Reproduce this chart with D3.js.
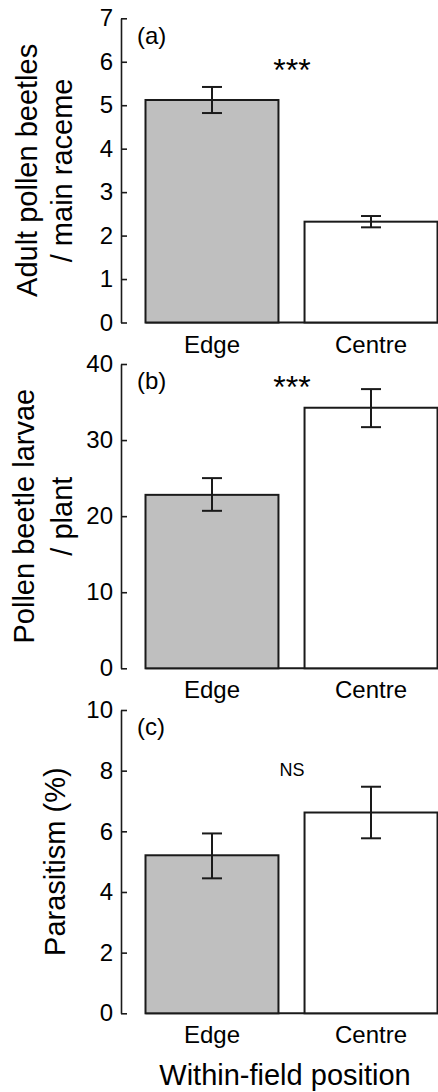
<!DOCTYPE html>
<html>
<head>
<meta charset="utf-8">
<script src="https://cdn.jsdelivr.net/npm/d3@7"></script>
<style>
  html, body { margin: 0; padding: 0; background: #fff; }
  svg { display: block; font-family: 'Liberation Sans', Arial, sans-serif; }
</style>
</head>
<body>
<svg id="chart" width="438" height="1092"></svg>
<script>
// data
const categories = ['Edge', 'Centre'];
const barColours = ['#bfbfbf', '#ffffff'];

const adultMean = [5.12, 2.32];
const adultLow = [4.82, 2.19];
const adultHigh = [5.42, 2.45];
const adultTicks = [0, 1, 2, 3, 4, 5, 6, 7];

const larvaeMean = [22.8, 34.25];
const larvaeLow = [20.7, 31.7];
const larvaeHigh = [25.0, 36.7];
const larvaeTicks = [0, 10, 20, 30, 40];

const parasitismMean = [5.21, 6.62];
const parasitismLow = [4.45, 5.77];
const parasitismHigh = [5.93, 7.47];
const parasitismTicks = [0, 2, 4, 6, 8, 10];

const panels = [
    { tag: '(a)', sig: '***', mean: adultMean, low: adultLow, high: adultHigh, ticks: adultTicks,
      max: 7, top: 18.3, bottom: 322.5, title: ['Adult pollen beetles', '/ main raceme'], titleX: [36.7, 71.7],
      sigY: 81, sigSize: 32, tagY: 43.5 },
    { tag: '(b)', sig: '***', mean: larvaeMean, low: larvaeLow, high: larvaeHigh, ticks: larvaeTicks,
      max: 40, top: 364, bottom: 668.3, title: ['Pollen beetle larvae', '/ plant'], titleX: [33.5, 71.7],
      sigY: 398, sigSize: 32, tagY: 389 },
    { tag: '(c)', sig: 'NS', mean: parasitismMean, low: parasitismLow, high: parasitismHigh, ticks: parasitismTicks,
      max: 10, top: 710, bottom: 1013.3, title: ['Parasitism (%)'], titleX: [65],
      sigY: 775.5, sigSize: 18, tagY: 735 }
];

const svg = d3.select('#chart');
const axisX = 121;
const ink = '#1a1a1a';

const x = d3.scaleBand()
    .domain(categories)
    .range([145.5, 437.5])
    .paddingInner(0.164)
    .paddingOuter(0);

panels.forEach(p => {
    const y = d3.scaleLinear()
        .domain([0, p.max])
        .range([p.bottom, p.top]);

    const g = svg.append('g');

    // y axis, ticks inward
    const yAxis = g.append('g')
        .attr('transform', `translate(${axisX},0)`)
        .call(d3.axisLeft(y).tickValues(p.ticks).tickFormat(d3.format('d'))
            .tickSizeInner(-6).tickSizeOuter(0).tickPadding(8));
    yAxis.select('.domain').attr('stroke', ink).attr('stroke-width', 1.6);
    yAxis.selectAll('.tick line').attr('stroke', ink).attr('stroke-width', 1.6);
    yAxis.selectAll('.tick text')
        .attr('fill', '#000')
        .style('font-size', '24px')
        .style('font-family', "'Liberation Sans', Arial, sans-serif");

    // baseline across the bars
    g.append('line')
        .attr('x1', x('Edge'))
        .attr('x2', 438)
        .attr('y1', y(0))
        .attr('y2', y(0))
        .attr('stroke', ink)
        .attr('stroke-width', 2);

    const data = categories.map((c, i) => ({ cat: c, mean: p.mean[i], low: p.low[i], high: p.high[i], fill: barColours[i] }));

    g.selectAll('rect.bar')
        .data(data)
        .join('rect')
        .attr('class', 'bar')
        .attr('x', d => x(d.cat))
        .attr('y', d => y(d.mean))
        .attr('width', x.bandwidth())
        .attr('height', d => y(0) - y(d.mean))
        .attr('fill', d => d.fill)
        .attr('stroke', ink)
        .attr('stroke-width', 2);

    // error bars
    const cx = d => x(d.cat) + x.bandwidth() / 2;
    const err = g.selectAll('g.err')
        .data(data)
        .join('g')
        .attr('class', 'err')
        .attr('stroke', ink)
        .attr('stroke-width', 2);
    err.append('line')
        .attr('x1', cx).attr('x2', cx)
        .attr('y1', d => y(d.low)).attr('y2', d => y(d.high));
    err.append('line')
        .attr('x1', d => cx(d) - 10).attr('x2', d => cx(d) + 10)
        .attr('y1', d => y(d.low)).attr('y2', d => y(d.low));
    err.append('line')
        .attr('x1', d => cx(d) - 10).attr('x2', d => cx(d) + 10)
        .attr('y1', d => y(d.high)).attr('y2', d => y(d.high));

    // category labels
    const xAxis = g.append('g')
        .attr('transform', `translate(0,${y(0)})`)
        .call(d3.axisBottom(x).tickSize(0).tickPadding(13));
    xAxis.select('.domain').remove();
    xAxis.selectAll('.tick text')
        .attr('fill', '#000')
        .style('font-size', '24px')
        .style('font-family', "'Liberation Sans', Arial, sans-serif");

    // panel tag
    g.append('text')
        .attr('x', 137)
        .attr('y', p.tagY)
        .text(p.tag)
        .style('font-size', '24px');

    // significance
    g.append('text')
        .attr('x', 292)
        .attr('y', p.sigY)
        .attr('text-anchor', 'middle')
        .text(p.sig)
        .style('font-size', p.sigSize + 'px');

    // y title
    const midY = (p.top + p.bottom) / 2;
    p.title.forEach((t, i) => {
        g.append('text')
            .attr('transform', `translate(${p.titleX[i]},${midY}) rotate(-90)`)
            .attr('text-anchor', 'middle')
            .text(t)
            .style('font-size', '29px');
    });
});

svg.append('text')
    .attr('x', 285)
    .attr('y', 1085)
    .attr('text-anchor', 'middle')
    .text('Within-field position')
    .style('font-size', '29px');
</script>
</body>
</html>
